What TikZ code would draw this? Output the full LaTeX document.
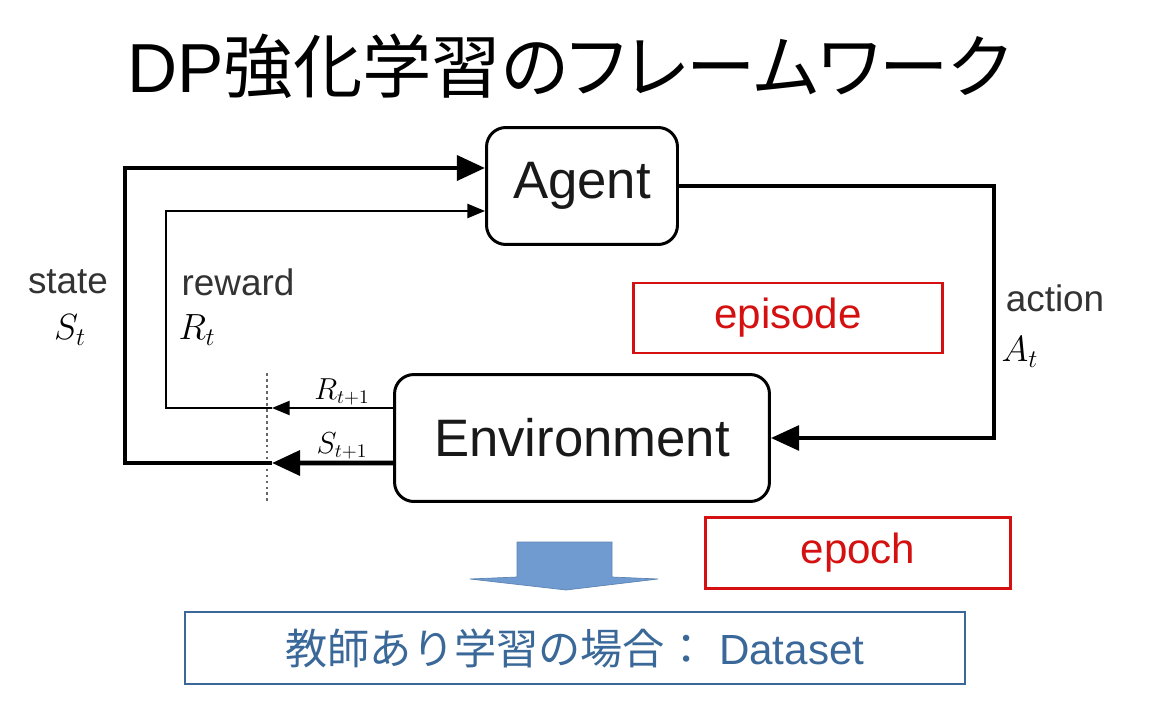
\documentclass[tikz,border=0pt]{standalone}
\usepackage{fontspec}
\setmainfont{Liberation Sans}
\newfontfamily\jpfont{Noto Sans CJK JP}
\newfontfamily\jptitle[RawFeature=+palt]{Noto Sans CJK JP}
\usepackage{tikz}
\usepackage{xcolor}
\usetikzlibrary{positioning, arrows.meta, calc}
\definecolor{boxred}{HTML}{D41010}
\definecolor{dsblue}{HTML}{3A6898}
\definecolor{arrowblue}{HTML}{6F9BD1}
\colorlet{labelgray}{black!80}

\begin{document}
\begin{tikzpicture}[x=0.02cm, y=-0.02cm]
  % Define the styles for boxes, tags and labels
  \tikzstyle{block}=[draw, line width=1.7pt, rounded corners=11pt, inner sep=0pt, font=\fontsize{30}{36}\selectfont, text=black!90]
  \tikzstyle{tag}=[draw=boxred, line width=1.4pt, inner sep=0pt, text=boxred, font=\fontsize{24}{29}\selectfont]
  \tikzstyle{caption}=[text=labelgray, inner sep=0pt, font=\fontsize{21}{25}\selectfont]
  \tikzstyle{signal}=[inner sep=0pt, font=\fontsize{21}{25}\selectfont]
  \tikzstyle{small signal}=[inner sep=0pt, font=\fontsize{16}{19}\selectfont]
  \tikzstyle{state line}=[line width=2.8pt, -{Triangle[length=16pt,width=14pt]}]
  \tikzstyle{reward line}=[line width=1.1pt, -{Triangle[length=10pt,width=8pt]}]

  % Fix the page size
  \useasboundingbox (0,0) rectangle (1151,709);

  % Title
  \node (title) at (569,66) {\fontsize{39.5}{46}\selectfont DP\jptitle 強化学習のフレームワーク};

  % Agent and environment
  \node[block, minimum width=3.82cm, minimum height=2.34cm] (agent) at (582,186) {Agent};
  \node[block, minimum width=7.5cm, minimum height=2.54cm] (env) at (582,438) {Environment};

  % Cut points on the dotted line
  \coordinate (sCut) at (272,463);
  \coordinate (rCut) at (272,408);
  \coordinate (cutTop) at (267,373);
  \coordinate (cutBot) at (267,502);
  \draw[black!60, line width=1.6pt, dash pattern=on 1.6pt off 1.8pt] (cutTop) -- (cutBot);

  % State loop
  \draw[state line] ([yshift=-0.5cm]env.west) -- (sCut);
  \draw[state line] (sCut) -- ++(-147,0) |- ([yshift=0.36cm]agent.west);

  % Reward loop
  \draw[reward line] ([yshift=0.6cm]env.west) -- (rCut);
  \draw[reward line] (rCut) -- ++(-106,0) |- ([yshift=-0.5cm]agent.west);

  % Action
  \draw[line width=2.3pt, -{Triangle[length=16pt,width=14pt]}] (agent.east) -- ++(315,0) |- (env.east);

  % Labels
  \node[caption] (stateLbl) at (68,282) {state};
  \node[signal] (stateSym) at (70,330) {$S_t$};
  \node[caption] (rewardLbl) at (238,282) {reward};
  \node[signal] (rewardSym) at (197,330) {$R_t$};
  \node[small signal] (rNext) at (342,392) {$R_{t+1}$};
  \node[small signal] (sNext) at (342,446) {$S_{t+1}$};
  \node[caption] (actionLbl) at (1055,298) {action};
  \node[signal] (actionSym) at (1020,352) {$A_t$};

  % Red tags
  \node[tag, minimum width=6.18cm, minimum height=1.4cm] (episode) at (788,318) {episode};
  \node[tag, minimum width=6.1cm, minimum height=1.42cm] (epoch) at (858,553) {epoch};

  % Block arrow
  \filldraw[fill=arrowblue, draw=arrowblue!85!black, line width=0.4pt] (517,542) -- (612,542) -- (612,577) -- (658,579) -- (566,590) -- (470,579) -- (517,577) -- cycle;

  % Dataset box
  \node[draw=dsblue, line width=1.6pt, minimum width=15.6cm, minimum height=1.44cm, inner sep=0pt, text=dsblue, font=\fontsize{24}{29}\selectfont] (dataset) at (575,648) {\jpfont 教師あり学習の場合：\fontspec{Liberation Sans}\ Dataset};
\end{tikzpicture}
\end{document}
